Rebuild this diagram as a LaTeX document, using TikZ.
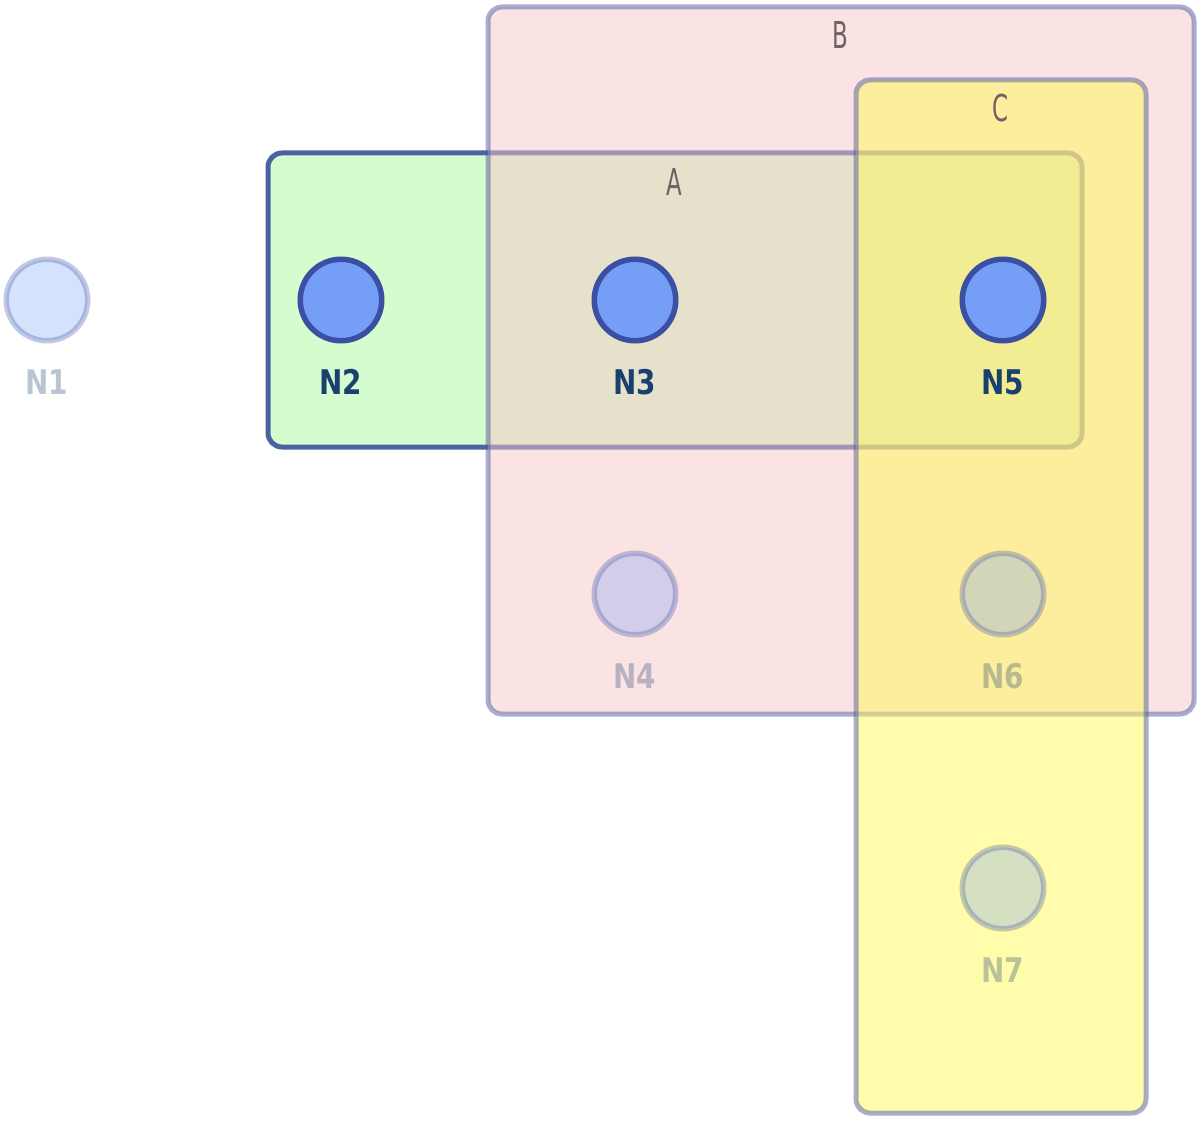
\documentclass[tikz,border=0pt]{standalone}
\usepackage{fontspec}
\setmainfont{DejaVu Sans}
\newfontfamily\nodefont[FakeStretch=0.82]{DejaVu Sans}
\newfontfamily\setfont[FakeStretch=0.62]{DejaVu Sans}
\usepackage{tikz}
\usetikzlibrary{positioning}

\definecolor{nodefill}{HTML}{759EF7}
\definecolor{nodeedge}{HTML}{3B4FA3}
\definecolor{navy}{HTML}{1A4070}
\definecolor{agreen}{HTML}{D5FCCF}
\definecolor{aedge}{HTML}{4A62A0}
\definecolor{bpink}{RGB}{247,200,200}
\definecolor{cyellow}{RGB}{255,249,90}
\definecolor{setedge}{RGB}{81,93,161}
\definecolor{settext}{HTML}{6E6262}

\begin{document}
\begin{tikzpicture}[x=1pt, y=-1pt,
    setbox/.style={rounded corners=14pt, line width=5pt},
    vertex/.style={circle, draw=nodeedge, fill=nodefill, line width=5.5pt,
      minimum size=81.5pt, inner sep=0pt},
    vname/.style={inner sep=0pt, text=navy, font=\nodefont\bfseries\fontsize{34}{40}\selectfont},
    setname/.style={inner sep=0pt, text=settext, font=\setfont\fontsize{37}{42}\selectfont}]
\useasboundingbox (0,0) rectangle (1200,1121);

% Mengen A, B, C
\draw[setbox, draw=aedge, fill=agreen] (268,153) rectangle (1082,447);
\draw[setbox, draw=setedge, fill=bpink, opacity=0.5] (488,7) rectangle (1194,714);
\draw[setbox, draw=setedge, fill=cyellow, opacity=0.5] (856,80) rectangle (1146,1113);

\node[setname] (labA) at (674,182) {A};
\node[setname] (labB) at (840,35) {B};
\node[setname] (labC) at (1000,108) {C};

% blasse Knoten
\begin{scope}[opacity=0.3]
    \node[vertex] (n1) at (47,300) {};
    \node[vname, below=26pt of n1] (n1lab) {N1};
    \node[vertex] (n4) at (635,594) {};
    \node[vname, below=26pt of n4] (n4lab) {N4};
    \node[vertex] (n6) at (1003,594) {};
    \node[vname, below=26pt of n6] (n6lab) {N6};
    \node[vertex] (n7) at (1003,888) {};
    \node[vname, below=26pt of n7] (n7lab) {N7};
\end{scope}

% aktive Knoten
\node[vertex] (n2) at (341,300) {};
\node[vname, below=26pt of n2] (n2lab) {N2};
\node[vertex] (n3) at (635,300) {};
\node[vname, below=26pt of n3] (n3lab) {N3};
\node[vertex] (n5) at (1003,300) {};
\node[vname, below=26pt of n5] (n5lab) {N5};

\end{tikzpicture}
\end{document}
